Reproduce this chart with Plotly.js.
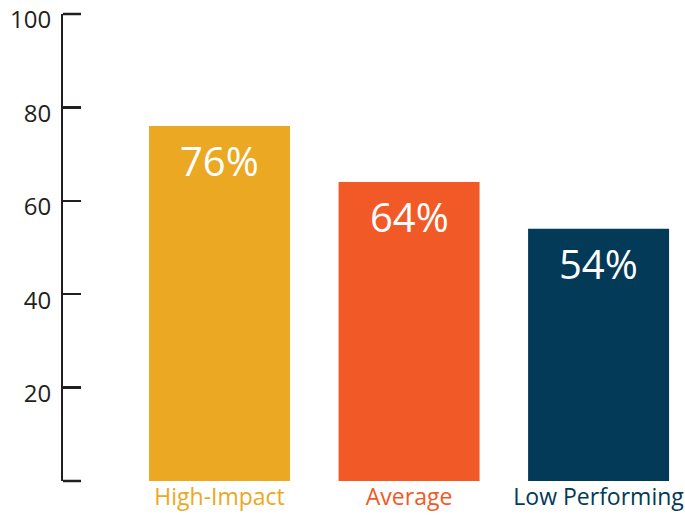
<!DOCTYPE html>
<html>
<head>
<meta charset="utf-8">
<script src="https://cdn.plot.ly/plotly-3.0.1.min.js"></script>
<style>html,body{margin:0;padding:0;background:#fff;}#chart{width:685px;height:515px;}</style>
</head>
<body>
<div id="chart"></div>
<script>
const categories = ["High-Impact", "Average", "Low Performing"];
const values = [76, 64, 54];
const valueLabels = ["76%", "64%", "54%"];
const barColors = ["#EBA823", "#F15A27", "#023A58"];
const yTickVals = [0, 20, 40, 60, 80, 100];
const yTickText = ["", "20", "40", "60", "80", "100"];

const xIdx = categories.map((c, i) => i);
const axisColor = "#231F20";

const trace = {
  type: "bar",
  x: xIdx,
  y: values,
  marker: { color: barColors, line: { width: 0 } },
  hoverinfo: "none"
};

const annotations = values.map((v, i) => ({
  x: i, y: v, xref: "x", yref: "y",
  text: valueLabels[i],
  showarrow: false,
  yanchor: "top",
  yshift: -5,
  font: { family: "Open Sans, sans-serif", size: 40, color: "#ffffff" }
}));

// end ticks at the axis ends (Plotly hides inside ticks at the range ends)
const endTicks = [0, 1].map(p => ({
  type: "line", xref: "paper", yref: "paper",
  xsizemode: "pixel", xanchor: 0, x0: 0, x1: 18,
  y0: p, y1: p,
  line: { color: axisColor, width: 2.5 }
}));

const layout = {
  width: 685, height: 515,
  margin: { l: 63, r: 0, t: 14, b: 34 },
  paper_bgcolor: "#ffffff",
  plot_bgcolor: "#ffffff",
  showlegend: false,
  bargap: 0.256,
  font: { family: "Open Sans, sans-serif", color: axisColor },
  xaxis: {
    range: [-0.826, 2.456],
    tickmode: "array",
    tickvals: xIdx,
    ticktext: categories.map((c, i) => '<span style="color:' + barColors[i] + '">' + c + '</span>'),
    ticks: "",
    showgrid: false, zeroline: false, showline: false,
    tickfont: { family: "Open Sans, sans-serif", size: 23 },
    ticklabelstandoff: 0,
    ticklabeloverflow: "allow"
  },
  yaxis: {
    range: [0, 100],
    tickmode: "array",
    tickvals: yTickVals,
    ticktext: yTickText,
    ticks: "inside", ticklen: 18, tickwidth: 2.5, tickcolor: axisColor,
    showline: true, linecolor: axisColor, linewidth: 2,
    showgrid: false, zeroline: false,
    tickfont: { family: "Open Sans, sans-serif", size: 24, color: axisColor },
    ticklabelstandoff: 5,
    ticklabelshift: 6,
    ticklabeloverflow: "allow"
  },
  shapes: endTicks,
  annotations: annotations
};

Plotly.newPlot("chart", [trace], layout, { displayModeBar: false, staticPlot: true });
</script>
</body>
</html>
